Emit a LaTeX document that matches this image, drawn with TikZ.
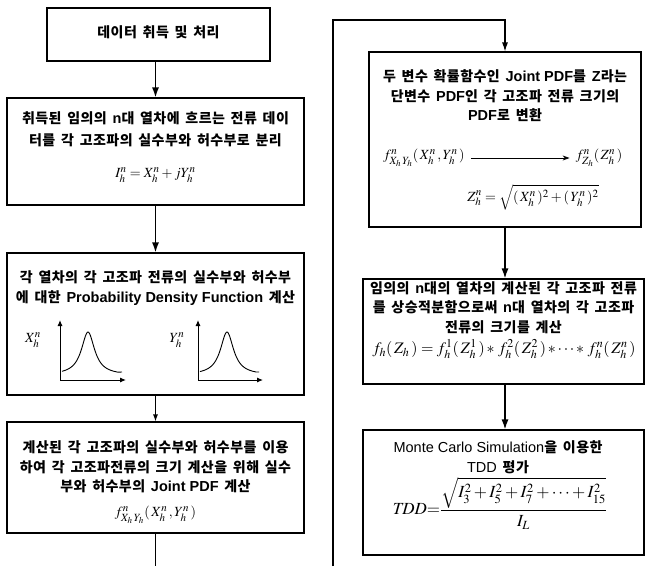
\documentclass[tikz,border=0pt]{standalone}
\usepackage{fontspec}
\usepackage{mathptmx}
\newfontfamily\kr{Noto Sans CJK KR}[LetterSpace=3, WordSpace=1.6]
\newfontfamily\latf{Liberation Sans}
\newcommand\lat[1]{{\latf\fontsize{14.5}{19.5}\selectfont #1}}
\newcommand\latr[1]{{\latf\mdseries\fontsize{14.5}{19.5}\selectfont #1}}
\usetikzlibrary{arrows.meta}
\DeclareMathSizes{14}{14}{11}{9}
\DeclareMathSizes{16}{16}{12}{9.5}
\DeclareMathSizes{17}{17}{12.5}{10}
\tikzset{
  box/.style={draw=black, line width=1.1pt, inner sep=0pt},
  txt/.style={inner sep=0pt, align=center, font=\kr\bfseries\fontsize{14}{19.5}\selectfont},
  eq/.style={inner sep=0pt, font=\fontsize{14}{16}\selectfont},
  arr/.style={line width=1.4pt, -{Latex[length=10pt,width=7pt]}},
  sarr/.style={line width=1.1pt, -{Latex[length=7pt,width=5pt]}},
  conn/.style={line width=1.1pt},
  axis/.style={line width=1pt, -{Latex[length=6pt,width=5pt]}},
  curve/.style={line width=0.9pt}
}
\begin{document}
\begin{tikzpicture}[x=1pt,y=-1pt]
\useasboundingbox (0,0) rectangle (645,566);
% boxes
\node[box, minimum width=223pt, minimum height=53pt] (b1) at (158.5,34.5) {};
\node[box, minimum width=297pt, minimum height=107pt] (b2) at (155.5,151.5) {};
\node[box, minimum width=297pt, minimum height=142pt] (b3) at (155.5,324) {};
\node[box, minimum width=297pt, minimum height=111pt] (b4) at (155.5,477.5) {};
\node[box, minimum width=272pt, minimum height=175pt] (b5) at (505,139.5) {};
\node[box, minimum width=281pt, minimum height=105pt] (b6) at (503.5,331.5) {};
\node[box, minimum width=281pt, minimum height=125pt] (b7) at (503.5,492.5) {};
% texts
\node[txt] (t1) at (158.5,32) {데이터 취득 및 처리};
\node[txt] (t2) at (155.5,129.5) {취득된 임의의 \lat{n}대 열차에 흐르는 전류 데이\\[2pt]터를 각 고조파의 실수부와 허수부로 분리};
\node[eq] (e2) at (155.5,175) {$I^n_h = X^n_h + jY^n_h$};
\node[txt] (t3) at (155.5,288) {각 열차의 각 고조파 전류의 실수부와 허수부\\에 대한 \lat{Probability Density Function} 계산};
\node[txt] (t4) at (155.5,467) {계산된 각 고조파의 실수부와 허수부를 이용\\하여 각 고조파전류의 크기 계산을 위해 실수\\부와 허수부의 \lat{Joint PDF} 계산};
\node[eq] (e4) at (155.5,515) {$f^n_{X_h\,Y_h}(\,X^n_h\,,Y^n_h\,)$};
\node[txt] (t5) at (505,96) {두 변수 확률함수인 \lat{Joint PDF}를 \lat{Z}라는\\단변수 \lat{PDF}인 각 고조파 전류 크기의\\\lat{PDF}로 변환};
\node[eq] (f5a) at (424,158) {$f^n_{X_h\,Y_h}(\,X^n_h\,,Y^n_h\,)$};
\node[eq] (f5b) at (599,158) {$f^n_{Z_h}(\,Z^n_h\,)$};
\node[eq] (e5) at (533,197) {$Z^n_h = \sqrt{(\,X^n_h\,)^2 + (\,Y^n_h\,)^2}$};
\node[txt] (t6) at (503.5,307.5) {임의의 \lat{n}대의 열차의 계산된 각 고조파 전류\\를 상승적분함으로써 \lat{n}대 열차의 각 고조파\\전류의 크기를 계산};
\node[eq, font=\fontsize{16}{18}\selectfont] (e6) at (504,349) {$f_h(\,Z_h\,) = f^1_h(\,Z^1_h\,)\,{*}\;f^2_h(\,Z^2_h\,)\,{*}\cdots{*}\;f^n_h(\,Z^n_h\,)$};
\node[txt] (t7) at (498,457) {\latr{Monte Carlo Simulation}을 이용한\\\latr{TDD} 평가};
\node[eq, font=\fontsize{17}{19}\selectfont] (e7) at (500,503) {$\mathit{TDD}{=}\displaystyle\frac{\sqrt{I^2_3 + I^2_5 + I^2_7 + \cdots + I^2_{15}}}{I_L}$};
% PDF plots
\node[eq] (lx) at (33,340) {$X^n_h$};
\node[eq] (ly) at (177,340) {$Y^n_h$};
\coordinate (ox) at (60,380);
\coordinate (oy) at (198,380);
\draw[axis] (ox) -- ++(0,-60);
\draw[axis] (ox) -- ++(66,0);
\draw[axis] (oy) -- ++(0,-60);
\draw[axis] (oy) -- ++(65,0);
\draw[curve] plot[domain=62:118, samples=80, smooth] ({\x},{375-43/(1+((\x-88)/8)^2)}) -- (122,372);
\draw[curve] plot[domain=200:256, samples=80, smooth] ({\x},{375-43/(1+((\x-227)/8)^2)}) -- (259,372);
% connectors
\draw[arr] (b1.south -| b2.north) -- (b2.north);
\draw[arr] (b2.south) -- (b3.north);
\draw[sarr] (b3.south) -- (b4.north);
\coordinate (lend) at (155.5,566);
\draw[conn] (b4.south) -- (lend);
\coordinate (rbot) at (333,566);
\coordinate (rtop) at (333,20);
\draw[line width=1.1pt, -{Latex[length=9pt,width=6pt]}] (rbot) -- (rtop) -| (b5.north);
\draw[line width=0.8pt, -{Stealth[length=7pt,width=5pt]}] ([xshift=6pt]f5a.east) -- ([xshift=-6pt]f5b.west);
\draw[arr] (b5.south) -- (b5.south |- b6.north);
\draw[arr] (b6.south -| b5.south) -- (b5.south |- b7.north);
\end{tikzpicture}
\end{document}
